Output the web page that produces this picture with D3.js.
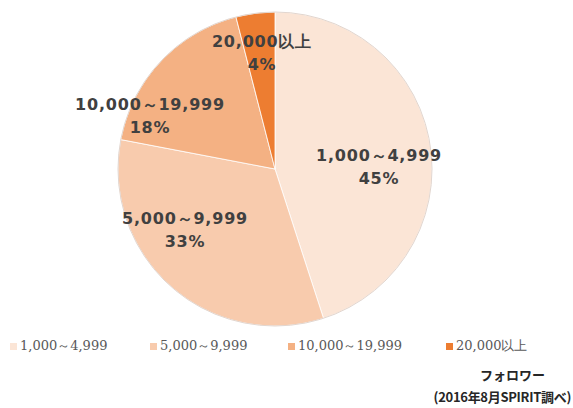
<!DOCTYPE html>
<html><head><meta charset="utf-8">
<script src="https://cdn.jsdelivr.net/npm/d3@7"></script>
<style>body{margin:0;background:#fff}</style>
</head><body><svg id="c" width="573" height="408"></svg>
<script>
const categories = ["1,000～4,999", "5,000～9,999", "10,000～19,999", "20,000以上"];
const values = [45, 33, 18, 4];
const colors = ["#fbe5d6", "#f8cbad", "#f4b183", "#ed7d31"];
const legendTitle = "フォロワー";
const source = "(2016年8月SPIRIT調べ)";

const svg = d3.select("#c");
const cx = 275, cy = 169, r = 157;
const data = categories.map((c, i) => ({c, v: values[i], col: colors[i]}));
const pie = d3.pie().sort(null).value(d => d.v);
const arcs = pie(data);
const arc = d3.arc().innerRadius(0).outerRadius(r);
const g = svg.append("g").attr("transform", `translate(${cx},${cy})`);
g.selectAll("path").data(arcs).join("path")
  .attr("d", arc).attr("fill", d => d.data.col)
  .attr("stroke", "#ffffff").attr("stroke-width", 0.8);
g.append("circle").attr("r", r).attr("fill", "none").attr("stroke", "#e2d6cf").attr("stroke-width", 1);

const labelPos = [[104, -8], [-90, 55], [-125, -59], [-13, -122]];
const lbl = g.selectAll("g.lbl").data(arcs).join("g")
  .attr("transform", (d, i) => `translate(${labelPos[i][0]},${labelPos[i][1]})`);
lbl.append("text").attr("text-anchor", "middle").attr("y", 0)
  .attr("font-family", "DejaVu Sans, Verdana, sans-serif").attr("font-weight", "bold")
  .attr("font-size", 16).attr("letter-spacing", 0.8).attr("fill", "#404040").text(d => d.data.c);
lbl.append("text").attr("text-anchor", "middle").attr("y", 23)
  .attr("font-family", "DejaVu Sans, Verdana, sans-serif").attr("font-weight", "bold")
  .attr("font-size", 16).attr("letter-spacing", 0.8).attr("fill", "#404040").text(d => d.data.v + "%");

const legX = [10, 150, 288, 446];
const leg = svg.selectAll("g.leg").data(data).join("g")
  .attr("transform", (d, i) => `translate(${legX[i]},349)`);
leg.append("rect").attr("x", 0).attr("y", -6).attr("width", 7).attr("height", 7).attr("fill", d => d.col);
leg.append("text").attr("x", 10).attr("y", 1)
  .attr("font-family", "DejaVu Serif, Liberation Serif, serif").attr("font-size", 13)
  .attr("fill", "#595959").text(d => d.c);

svg.append("text").attr("x", 545).attr("y", 380).attr("text-anchor", "end")
  .attr("font-family", "Noto Sans CJK JP, sans-serif").attr("font-weight", "bold")
  .attr("font-size", 13).attr("fill", "#262626").text(legendTitle);
svg.append("text").attr("x", 571).attr("y", 402).attr("text-anchor", "end")
  .attr("font-family", "Noto Sans CJK JP, sans-serif").attr("font-weight", "bold")
  .attr("font-size", 13).attr("fill", "#262626").attr("letter-spacing", -0.3).text(source);
</script></body></html>
